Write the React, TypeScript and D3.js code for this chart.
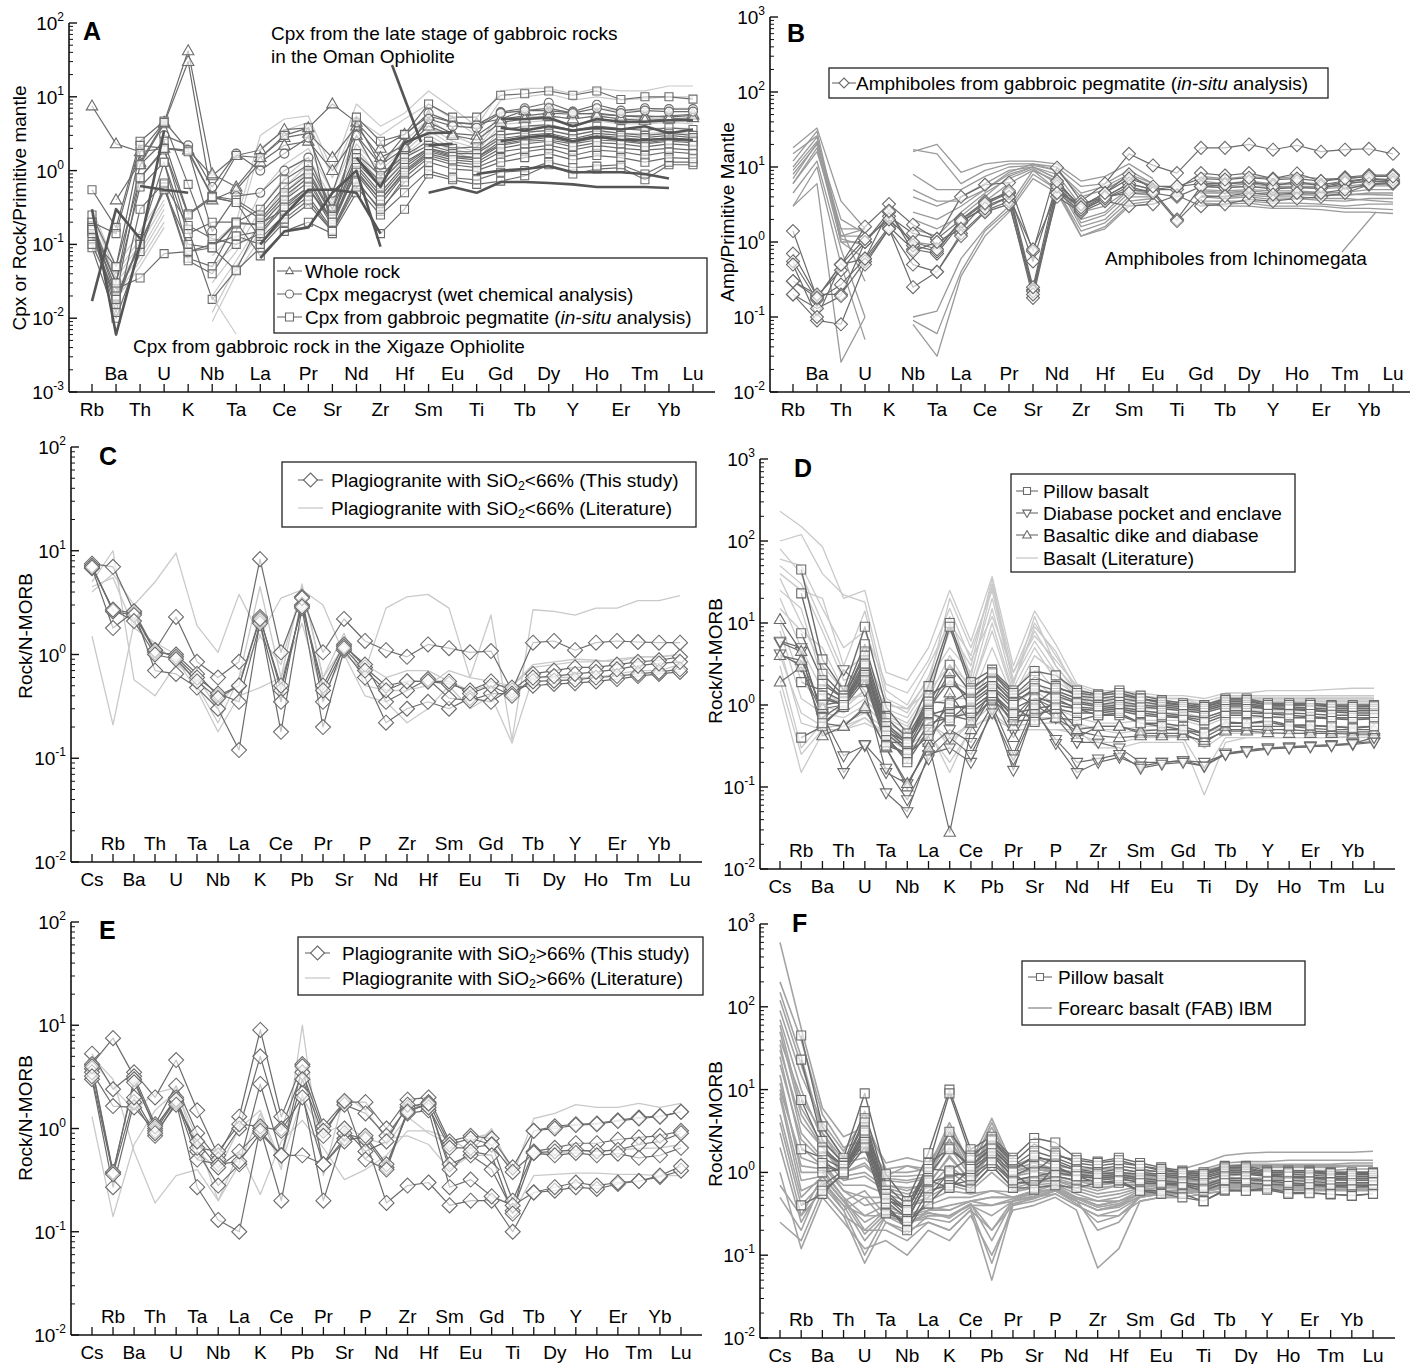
import React from "react";
import * as d3 from "d3";

type V = number | null;

// ---------- element orders (tick labels) ----------
const ELEM_PM = ["Rb","Ba","Th","U","K","Nb","Ta","La","Ce","Pr","Sr","Nd","Zr","Hf","Sm","Eu","Ti","Gd","Tb","Dy","Y","Ho","Er","Tm","Yb","Lu"];
const ELEM_MORB = ["Cs","Rb","Ba","Th","U","Ta","Nb","La","K","Ce","Pb","Pr","Sr","P","Nd","Zr","Hf","Sm","Eu","Gd","Ti","Tb","Dy","Y","Ho","Er","Tm","Yb","Lu"];

// ---------- panel A : cpx / primitive mantle ----------
const wholeRockA: V[][] = [
  [7.5, 2.3, 1.8, 2.0, 1.9, 0.85, 1.6, 1.9, 3.6, 3.8, 8.0, 4.5, 2.0, 3.1, 5.5, 4.5, 4.3, 5.0, 6.5, 6.5, 6.0, 5.8, 5.5, 5.5, 5.3, 5.6],
  [null, 0.4, 1.3, 4.5, 42, 0.9, 0.6, 1.5, 2.8, 3.2, 1.5, 4.0, 1.5, 2.2, 4.5, 3.2, 3.0, 5.0, 5.5, 6.0, 5.8, 6.0, 5.5, 5.3, 5.5, 5.8],
  [null, null, 1.2, 4.3, 30, 0.4, 0.55, 1.3, 2.2, 2.5, 1.0, 3.0, 1.2, 2.0, 4.0, 3.0, 2.6, 4.5, 5.0, 5.5, 5.0, 5.5, 5.0, 4.8, 5.0, 5.2],
];
const cpxMegaA: V[][] = [
  [null, null, null, 3.0, 2.2, 0.6, 1.7, 1.0, 1.7, 2.8, 0.5, 4.5, 1.2, 3.0, 6.0, 4.5, 4.2, 6.2, 7.0, 8.3, 6.3, 7.8, 6.5, 7.0, 6.8, 6.8],
  [null, null, null, 2.0, 1.9, 0.15, 0.45, 0.5, 1.0, 1.5, 0.3, 3.0, 0.8, 2.0, 5.0, 4.0, 3.8, 6.0, 6.5, 7.0, 6.0, 7.0, 6.0, 6.5, 6.3, 6.3],
];
const cpxInsituA: V[][] = [
  [0.55, 0.17, 2.5, 4.7, 1.9, 0.45, 1.6, 1.5, 3.0, 3.8, 0.15, 5.3, 2.5, 3.1, 8.0, 5.3, 5.3, 10.5, 11, 12, 10.5, 12, 9.2, 10, 10, 9.3],
  [0.25, 0.05, 1.8, 4.5, 0.65, 0.09, 0.2, 0.3, 0.75, 1.2, 0.3, 1.7, 0.85, 1.6, 2.5, 2.0, 2.1, 3.5, 4.0, 4.2, 3.5, 4.0, 3.7, 3.5, 3.8, 3.6],
  [0.2, 0.03, 1.2, 2.5, 0.26, 0.45, 0.4, 0.25, 0.6, 1.0, 0.25, 1.5, 0.7, 1.5, 2.2, 1.8, 1.8, 3.0, 3.3, 3.5, 3.0, 3.5, 3.2, 3.0, 3.2, 3.0],
  [0.18, 0.02, 0.8, 2.0, 0.16, 0.018, 0.045, 0.2, 0.45, 0.8, 0.2, 1.2, 0.5, 1.2, 2.0, 1.6, 1.5, 2.5, 2.8, 3.0, 2.6, 3.0, 2.8, 2.6, 2.8, 2.6],
  [0.15, 0.015, 0.12, 1.3, 0.08, 0.1, 0.13, 0.15, 0.35, 0.6, 0.18, 1.0, 0.4, 1.0, 1.8, 1.5, 1.4, 2.2, 2.5, 2.6, 2.3, 2.6, 2.5, 2.3, 2.5, 2.4],
  [0.09, 0.01, 0.08, 0.65, 0.065, 0.05, 0.2, 0.07, 0.15, 0.2, 0.14, 0.5, 0.14, 0.3, 0.9, 0.75, 0.65, 0.72, 0.85, 1.2, 0.9, 1.05, 1.1, 0.75, 1.2, 1.2],
  [0.16, 0.025, 0.035, 0.075, 0.08, 0.09, 0.19, 0.19, 0.3, 0.55, 0.22, 0.9, 0.35, 0.9, 1.6, 1.3, 1.2, 1.8, 2.0, 2.2, 1.9, 2.2, 2.0, 1.9, 2.0, 1.9],
  [0.12, 0.05, 0.8, 1.9, 0.25, 0.43, 0.37, 0.12, 0.25, 0.45, 0.16, 0.75, 0.28, 0.8, 1.5, 1.2, 1.1, 1.5, 1.8, 2.0, 1.6, 1.9, 1.8, 1.6, 1.8, 1.7],
  [0.2, 0.14, 2.2, 2.0, 1.8, 0.44, 0.37, 0.22, 0.5, 0.9, 0.24, 1.3, 0.6, 1.3, 2.0, 1.7, 1.7, 2.7, 3.0, 3.2, 2.7, 3.2, 3.0, 2.8, 3.0, 2.8],
  [0.1, 0.02, 0.1, 0.55, 0.1, 0.09, 0.044, 0.09, 0.2, 0.35, 0.15, 0.6, 0.25, 0.5, 1.0, 0.8, 0.75, 0.95, 1.0, 1.3, 1.1, 1.15, 1.2, 0.9, 1.3, 1.3],
  [0.17, 0.03, 0.6, 1.3, 0.14, 0.2, 0.2, 0.18, 0.4, 0.7, 0.2, 1.1, 0.45, 1.1, 1.9, 1.55, 1.5, 2.3, 2.6, 2.8, 2.4, 2.8, 2.6, 2.4, 2.6, 2.5],
  [0.14, 0.018, 0.1, 0.6, 0.06, 0.04, 0.13, 0.1, 0.22, 0.4, 0.15, 0.7, 0.3, 0.7, 1.3, 1.05, 1.0, 1.3, 1.5, 1.7, 1.4, 1.6, 1.5, 1.3, 1.5, 1.45],
  [0.16, 0.012, 0.3, 0.68, 0.18, 0.12, 0.1, 0.14, 0.32, 0.6, 0.2, 0.95, 0.4, 0.95, 1.7, 1.4, 1.3, 2.0, 2.3, 2.5, 2.1, 2.4, 2.3, 2.1, 2.3, 2.2],
];
const xigazeA: V[][] = [
  [0.3, 0.05, 0.15, 0.5, null, 0.1, 0.2, 3.0, 5.0, 5.5, 1.0, 8, 4, 6, 12, 7, 4, 12, 13, 13, 11, 13, 12, 12, 14, 14],
  [0.25, 0.04, 0.12, 0.4, null, 0.07, 0.15, 2.0, 3.5, 4.5, 0.8, 5, 3, 5, 8, 5, 3, 9, 10, 11, 9, 10, 9, 9.5, 10, 10],
  [0.2, 0.035, 0.1, 0.35, null, 0.05, 0.1, 0.5, 1.2, 2.0, 0.5, 3, 1.2, 2.5, 5, 3, 2.2, 6, 6.5, 7, 6, 7, 6.5, 6.5, 7, 7],
  [0.18, 0.03, 0.08, 0.3, null, 0.03, 0.08, 0.3, 0.8, 1.5, 0.4, 2.3, 1.0, 2.0, 4, 2.5, 2.0, 5, 5.3, 5.5, 5, 5.5, 5, 5, 5.2, 5],
  [0.15, 0.025, 0.07, 0.25, null, 0.02, 0.06, 0.2, 0.6, 1.2, 0.35, 2.0, 0.8, 1.8, 3.5, 2.2, 1.8, 4.2, 4.5, 4.8, 4.2, 4.7, 4.3, 4.3, 4.5, 4.3],
  [0.12, 0.02, 0.06, 0.2, null, 0.012, 0.05, 0.15, 0.5, 1.0, 0.3, 1.7, 0.7, 1.6, 3.0, 2.0, 1.6, 3.6, 3.9, 4.0, 3.6, 4.0, 3.7, 3.7, 3.8, 3.7],
  [0.1, 0.018, 0.05, 0.17, null, 0.009, 0.04, 0.12, 0.4, 0.85, 0.28, 1.4, 0.6, 1.4, 2.7, 1.8, 1.4, 3.1, 3.3, 3.5, 3.1, 3.4, 3.2, 3.2, 3.3, 3.2],
];
const omanA: V[][] = [
  [0.017, 0.3, 0.12, null, null, null, null, null, null, null, null, null, null, null, null, null, null, null, null, null, null, null, null, null, null, null],
  [0.3, 0.006, 0.1, 3.5, null, null, null, null, null, null, null, null, null, null, null, null, null, null, null, null, null, null, null, null, null, null],
  [null, null, 0.62, 0.55, 0.5, null, null, null, null, null, null, null, null, null, null, null, null, null, null, null, null, null, null, null, null, null],
  [null, null, null, null, null, null, null, 0.065, 0.15, 0.17, 0.5, 1.0, 0.093, null, null, null, null, null, null, null, null, null, null, null, null, null],
  [null, null, null, null, null, null, null, 0.1, 0.25, 0.55, 0.55, 0.5, 0.14, null, null, null, null, null, null, null, null, null, null, null, null, null],
  [null, null, null, null, null, null, null, null, null, null, null, 1.5, 0.6, 2.4, 3.2, 3.3, null, null, null, null, null, null, null, null, null, null],
  [null, null, null, null, null, null, null, null, null, null, null, null, null, null, 2.2, 2.3, null, null, null, null, null, null, null, null, null, null],
  [null, null, null, null, null, null, null, null, null, null, null, null, null, null, 0.5, 0.6, 0.5, 0.7, 0.7, 0.68, 0.65, 0.6, 0.6, 0.6, 0.58, null],
  [null, null, null, null, null, null, null, null, null, null, null, null, null, null, null, null, 0.9, 1.0, 1.05, 1.15, 0.95, 0.95, 0.95, 0.9, 0.78, null],
  [null, null, null, null, null, null, null, null, null, null, null, null, null, null, null, null, null, 5.0, 5.0, 5.2, 4.0, 5.0, 4.6, 4.6, 4.8, 4.8],
  [null, null, null, null, null, null, null, null, null, null, null, null, null, null, null, null, null, 3.8, 3.5, 4.0, 3.5, 3.8, 3.6, 4.0, 3.2, 3.6],
  [null, null, null, null, null, null, null, null, null, null, null, null, null, null, null, null, null, 2.5, 2.8, 3.0, 2.5, 2.9, 2.6, 2.6, 2.7, 2.6],
];

// ---------- panel B : amphibole / primitive mantle ----------
const amphPegB: V[][] = [
  [1.4, 0.18, 0.5, 1.6, 3.2, 1.7, 1.1, 4.0, 5.8, 6.2, 0.75, 9.8, 3.5, 6.0, 15, 10.5, 8.3, 18, 18, 20, 17, 19.5, 16, 17, 17.5, 15],
  [0.7, 0.19, 0.42, 1.0, 2.2, 1.3, 1.1, 2.0, 3.5, 4.5, 0.55, 6.0, 3.0, 4.5, 8.0, 5.0, 5.0, 8.3, 7.7, 8.3, 7.0, 8.2, 6.5, 7.3, 7.8, 7.8],
  [0.55, 0.17, 0.27, 0.6, 1.6, 0.8, 0.7, 1.8, 3.0, 4.0, 0.23, 5.0, 2.8, 4.0, 6.0, 5.0, 5.5, 6.0, 6.0, 6.2, 5.8, 6.0, 5.8, 6.5, 7.0, 6.5],
  [0.3, 0.2, 0.2, 0.55, 1.5, 0.5, 0.4, 1.3, 2.6, 3.5, 0.18, 4.5, 2.6, 3.8, 5.5, 4.5, 4.0, 5.5, 5.3, 5.5, 5.1, 5.3, 5.2, 6.0, 6.5, 6.3],
  [0.2, 0.09, 0.08, 0.5, 1.5, 0.25, 0.4, 1.2, 2.5, 3.2, 0.22, 4.0, 2.5, 3.5, 3.0, 3.2, 4.2, 3.0, 3.2, 3.7, 3.5, 3.8, 4.0, 4.5, 5.8, 6.0],
  [0.2, 0.13, 0.19, 1.0, 2.5, 0.9, 0.75, 2.0, 3.2, 4.5, 0.2, 5.5, 2.7, 3.8, 5.0, 4.8, 2.0, 5.5, 5.8, 6.5, 5.5, 6.5, 5.5, 6.2, 7.0, 6.8],
  [0.3, 0.18, 0.5, 1.1, 2.0, 1.0, 0.8, 1.9, 2.8, 4.0, 0.8, 4.5, 3.2, 4.0, 4.5, 4.5, 1.9, 4.0, 4.1, 4.5, 4.3, 4.5, 4.5, 5.0, 6.0, 6.2],
  [0.5, 0.1, 0.5, 0.6, 2.6, 0.75, 1.0, 1.5, 3.3, 4.8, 0.25, 6.5, 2.9, 4.5, 7.0, 5.5, 5.5, 7.0, 6.8, 7.2, 6.8, 7.0, 6.5, 7.0, 7.5, 7.5],
];
const ichinoB: V[][] = [
  [18, 33, 3.5, 1.5, null, 16, 20, 8.5, 11, 12, 12, 11, 6.5, 7.5, 11, 7, null, 7.5, 7, 7.5, 7, 7.5, 7, 7, 7.5, 7.5],
  [9, 22, 1.5, 1.5, null, 17, 15, 6, 9, 11, 11, 10, 5.5, 6, 9, 6, null, 6.5, 6, 6.5, 6, 6.2, 6, 6, 6.5, 6.5],
  [8, 20, 1.2, 1.2, null, 8, 5, 5, 7.5, 10, 10.5, 9, 4, 5, 7.5, 5.5, null, 6, 5.5, 6, 5.5, 5.5, 5.5, 5.5, 6, 6],
  [6, 18, 1.0, 1.0, null, 4, 3, 4, 6, 9, 10, 8, 3, 4, 6, 5, null, 5, 4.8, 5, 4.8, 4.8, 4.6, 4.6, 5, 5],
  [4.5, 12, 0.8, 0.1, null, 2.5, 2, 3, 5, 8, 10, 7, 2, 2.5, 5, 4.5, null, 4.5, 4.5, 4.5, 4.2, 4.3, 4.2, 4.2, 4.5, 4.5],
  [3, 10, 0.5, 0.05, null, 1.5, 1.2, 2.5, 4.5, 7, 9.5, 6, 1.6, 2, 4, 4, null, 4, 3.8, 4, 3.7, 3.8, 3.6, 3.5, 3.8, 3.8],
  [7, 21, 2, 1.3, null, 0.1, 0.12, 0.6, 1.5, 3, 9, 5, 1.4, 1.8, 3.5, 3.8, null, 3.5, 3.5, 3.5, 3.3, 3.3, 3.2, 3, 3.2, 3.2],
  [3, 6, 0.025, 0.1, null, 0.09, 0.06, 0.4, 1.4, 2.7, 8, 5, 1.2, 1.6, 3.2, 3.5, null, 3.3, 3.2, 3.3, 3, 3, 3, 2.8, 2.8, 2.7],
  [10, 25, 1.0, 0.6, null, 0.08, 0.03, 0.35, 1.2, 2.5, 7, 4.5, 1.2, 1.5, 3, 3.2, null, 3.2, 3, 3, 2.8, 2.8, 2.7, 2.5, 2.5, 2.4],
  [15, 26, 1.1, 0.9, null, 5, 3.5, 3.5, 5, 8.5, 11, 9, 4.5, 5.5, 8, 6, null, 5.5, 5.3, 5.5, 5.3, 5.4, 5.2, 5.3, 5.6, 5.6],
  [12, 30, 1.2, 1.5, null, 2, 1.5, 2.2, 4, 7.5, 10, 7, 2.5, 3, 5, 4.5, null, 4.8, 4.6, 4.8, 4.5, 4.6, 4.4, 4.3, 4.3, 4.2],
  [6, 16, 1.5, 0.3, null, 1.0, 0.9, 1.8, 3.5, 6, 9, 6.5, 1.8, 2.3, 4.5, 4.2, null, 4.2, 4, 4.2, 4, 4, 3.8, 3.8, 3.6, 3.4],
];

// ---------- panel C : plagiogranite SiO2 < 66 % ----------
const plagLowStudyC: V[][] = [
  [7.5, 7.0, 2.6, 1.1, 2.3, 0.85, 0.6, 0.85, 8.3, 1.05, 3.6, 1.05, 2.2, 1.35, 1.1, 0.95, 1.25, 1.15, 1.05, 1.08, 0.45, 1.3, 1.35, 1.1, 1.3, 1.35, 1.32, 1.3, 1.3],
  [7.0, 2.7, 2.5, 1.05, 1.0, 0.65, 0.4, 0.5, 2.3, 0.45, 3.0, 0.5, 1.25, 0.75, 0.5, 0.55, 0.55, 0.52, 0.45, 0.55, 0.45, 0.65, 0.7, 0.75, 0.75, 0.8, 0.85, 0.88, 0.95],
  [6.8, 1.8, 2.6, 0.7, 0.65, 0.48, 0.3, 0.12, 2.1, 0.18, 2.8, 0.2, 1.1, 0.6, 0.22, 0.3, 0.35, 0.3, 0.38, 0.35, 0.48, 0.5, 0.52, 0.53, 0.55, 0.58, 0.62, 0.65, 0.68],
  [7.2, 2.6, 2.4, 1.1, 0.95, 0.6, 0.42, 0.35, 2.0, 0.35, 3.5, 0.35, 1.2, 0.8, 0.35, 0.45, 0.58, 0.38, 0.36, 0.42, 0.42, 0.55, 0.56, 0.57, 0.6, 0.62, 0.65, 0.68, 0.72],
  [6.9, 2.7, 2.1, 1.0, 0.9, 0.55, 0.38, 0.5, 2.2, 0.5, 2.9, 0.45, 1.15, 0.7, 0.45, 0.55, 0.55, 0.55, 0.42, 0.5, 0.4, 0.6, 0.62, 0.65, 0.68, 0.72, 0.78, 0.82, 0.85],
];
const plagLowLitC: V[][] = [
  [4.5, 5.5, 1.8, 1.3, 1.0, 0.5, 0.22, 0.6, 1.5, 0.8, 4.5, 0.6, 1.2, 0.8, 0.6, 0.7, 0.7, 0.55, 0.45, 0.5, 0.5, 0.8, 0.85, 0.9, 0.88, 0.85, 0.95, 0.95, 1.0],
  [1.5, 0.21, 2.0, 1.2, 0.9, 0.45, 0.18, 0.4, 0.48, 0.6, 2.0, 0.4, 1.0, 0.4, 0.35, 0.22, 0.3, 0.5, 0.3, 0.4, 0.14, 0.6, 0.6, 0.6, 0.6, 0.65, 0.7, 0.7, 0.8],
  [5.0, 10, 0.57, 0.4, 0.8, 0.6, 0.3, 0.6, 4.5, 0.6, 4.8, 0.6, 1.6, 0.5, 0.45, 0.45, 0.5, 0.7, 0.6, 0.55, 0.5, 0.75, 0.8, 0.85, 0.85, 0.9, 0.95, 0.95, 1.0],
  [4.0, 6.0, 3.0, 5.0, 9.5, 1.9, 1.05, 3.8, 1.5, 3.5, 4.2, 3.0, 1.0, 0.7, 2.8, 3.6, 3.8, 2.8, 0.6, 2.4, 0.15, 2.7, 2.6, 2.4, 2.8, 2.8, 3.3, 3.3, 3.7],
];

// ---------- panels D / F : basalts ----------
const pillowBasalt: V[][] = [
  [null, 45, 3.6, 1.5, 9, 0.95, 0.45, 1.7, 10, 1.9, 2.7, 1.5, 2.6, 2.3, 1.5, 1.35, 1.5, 1.3, 1.15, 1.05, 1.0, 1.2, 1.2, 1.05, 1.05, 1.05, 1.0, 1.0, 1.0],
  [null, 23, 2.4, 1.3, 5.5, 0.7, 0.4, 1.2, 9, 1.6, 2.4, 1.3, 2.2, 1.7, 1.3, 1.2, 1.3, 1.2, 1.05, 1.0, 0.95, 1.1, 1.1, 1.0, 1.0, 1.0, 0.95, 0.95, 0.95],
  [null, 7.5, 2.0, 1.2, 4.5, 0.6, 0.35, 1.0, 3.1, 1.4, 2.1, 1.2, 1.8, 1.5, 1.2, 1.1, 1.2, 1.1, 1.0, 0.95, 0.9, 1.05, 1.05, 0.95, 0.95, 0.92, 0.9, 0.9, 0.9],
  [null, 1.9, 1.5, 1.1, 3.5, 0.5, 0.3, 0.9, 2.0, 1.2, 1.9, 1.1, 1.5, 1.4, 1.1, 1.0, 1.1, 1.0, 0.95, 0.9, 0.85, 1.0, 1.0, 0.92, 0.9, 0.88, 0.85, 0.85, 0.85],
  [null, 0.4, 0.55, 1.0, 2.3, 0.35, 0.25, 0.42, 0.75, 0.65, 1.2, 0.65, 0.65, 0.7, 0.65, 0.75, 0.75, 0.6, 0.6, 0.55, 0.45, 0.6, 0.6, 0.65, 0.57, 0.57, 0.54, 0.53, 0.55],
  [null, null, 1.2, 1.0, 2.8, 0.45, 0.28, 0.75, 0.9, 1.0, 1.6, 0.9, 1.2, 1.1, 0.95, 0.9, 0.95, 0.85, 0.8, 0.75, 0.7, 0.85, 0.85, 0.8, 0.8, 0.78, 0.75, 0.75, 0.75],
  [null, null, 0.7, 1.05, 2.5, 0.4, 0.22, 0.6, 0.7, 0.8, 1.3, 0.75, 0.75, 0.9, 0.8, 0.8, 0.85, 0.75, 0.72, 0.7, 0.6, 0.75, 0.75, 0.72, 0.7, 0.7, 0.68, 0.66, 0.68],
  [null, null, 1.0, 1.1, 3.0, 0.42, 0.2, 0.5, 1.0, 0.9, 1.4, 0.8, 0.9, 1.0, 0.9, 0.85, 0.9, 0.8, 0.75, 0.72, 0.65, 0.8, 0.8, 0.78, 0.75, 0.72, 0.7, 0.7, 0.7],
  [null, null, 1.8, 1.2, 4.0, 0.55, 0.33, 1.3, 1.9, 1.2, 2.0, 1.05, 1.6, 1.3, 1.05, 0.95, 1.0, 0.95, 0.9, 0.85, 0.8, 0.95, 0.95, 0.9, 0.88, 0.85, 0.82, 0.8, 0.8],
  [null, null, 0.6, 0.95, 2.0, 0.32, 0.26, 0.8, 0.65, 1.1, 1.7, 1.0, 0.62, 1.2, 0.9, 0.75, 0.8, 0.6, 0.55, 0.5, 0.45, 0.62, 0.6, 0.62, 0.55, 0.56, 0.55, 0.52, 0.55],
  [null, null, 1.3, 1.0, 3.2, 0.48, 0.35, 1.1, 1.05, 1.5, 2.5, 1.4, 1.0, 1.6, 1.4, 1.3, 1.4, 1.2, 1.1, 1.0, 0.95, 1.15, 1.15, 1.0, 1.0, 1.0, 0.98, 0.95, 0.98],
];
const diabasePocketD: V[][] = [
  [5.8, 4.5, 0.8, 2.7, 1.5, 0.15, 0.11, 0.3, 0.5, 0.35, 1.0, 0.25, 1.0, 0.7, 0.35, 0.35, 0.3, 0.2, 0.2, 0.21, 0.18, 0.26, 0.28, 0.3, 0.31, 0.32, 0.33, 0.34, 0.36],
  [4.2, 3.0, 0.75, 0.24, 0.32, 0.085, 0.05, 0.25, 0.3, 0.2, 0.9, 0.16, 0.9, 0.34, 0.15, 0.2, 0.23, 0.18, 0.2, 0.21, 0.2, 0.25, 0.28, 0.3, 0.3, 0.31, 0.32, 0.33, 0.35],
  [6.0, 5.0, 0.7, 0.15, 0.33, 0.17, 0.07, 0.22, 0.4, 0.25, 0.8, 0.22, 0.85, 0.38, 0.2, 0.22, 0.25, 0.17, 0.19, 0.2, 0.18, 0.25, 0.27, 0.29, 0.3, 0.31, 0.32, 0.34, 0.4],
];
const basalticDikeD: V[][] = [
  [11, 4.5, 0.42, 0.55, 0.9, 0.3, 0.1, 0.35, 0.028, 0.5, 1.3, 0.4, 1.2, 0.9, 0.4, 0.55, 0.55, 0.45, 0.45, 0.45, 0.35, 0.5, 0.5, 0.5, 0.5, 0.48, 0.47, 0.47, 0.47],
  [1.9, 2.9, 0.6, 0.55, 0.95, 0.3, 0.11, 0.3, 1.4, 0.6, 1.5, 0.55, 1.3, 0.7, 0.48, 0.42, 0.4, 0.42, 0.42, 0.42, 0.37, 0.48, 0.48, 0.46, 0.45, 0.45, 0.45, 0.44, 0.44],
  [4.0, 3.5, 0.9, 1.0, 2.2, 0.35, 0.35, 0.9, 2.5, 0.9, 1.4, 0.7, 1.3, 1.0, 0.5, 0.55, 0.55, 0.48, 0.5, 0.5, 0.4, 0.55, 0.55, 0.55, 0.55, 0.52, 0.5, 0.5, 0.5],
];
const basaltLitD: V[][] = [
  [230, 150, 85, 20, 25, 2.5, 2.0, 5, 25, 6, 37, 3, 14, 5.5, 1.8, 1.5, 1.5, 1.4, 1.3, 1.3, 1.2, 1.4, 1.4, 1.5, 1.5, 1.5, 1.55, 1.6, 1.6],
  [100, 120, 40, 22, 18, 1.5, 1.0, 3, 10, 4, 30, 2.5, 10, 4, 1.6, 1.3, 1.4, 1.3, 1.2, 1.2, 1.1, 1.3, 1.3, 1.3, 1.3, 1.3, 1.3, 1.3, 1.3],
  [50, 30, 8, 2, 2.5, 1.0, 0.9, 2, 5, 2.5, 20, 2.0, 8, 3, 1.5, 1.2, 1.2, 1.2, 1.1, 1.1, 1.0, 1.2, 1.2, 1.2, 1.2, 1.2, 1.2, 1.2, 1.2],
  [35, 10, 3, 1.5, 1.8, 0.8, 0.6, 1.5, 3, 1.8, 15, 1.6, 5, 2, 1.3, 1.1, 1.1, 1.1, 1.0, 1.0, 0.9, 1.1, 1.1, 1.1, 1.1, 1.1, 1.1, 1.1, 1.1],
  [20, 5, 1.5, 1.0, 1.5, 0.7, 0.5, 1.2, 2, 1.5, 10, 1.4, 3, 1.5, 1.2, 1.0, 1.0, 1.0, 0.95, 0.95, 0.85, 1.0, 1.0, 1.0, 1.0, 1.0, 1.0, 1.0, 1.0],
  [10, 2, 1.0, 0.8, 1.2, 0.6, 0.45, 1.0, 1.2, 1.2, 5, 1.2, 2, 1.2, 1.1, 0.95, 0.95, 0.95, 0.9, 0.9, 0.8, 0.95, 0.95, 0.95, 0.95, 0.95, 0.95, 0.95, 0.95],
  [5, 0.6, 0.5, 0.6, 0.8, 0.5, 0.4, 0.8, 0.6, 1.0, 3, 1.0, 1.5, 1.0, 0.9, 0.85, 0.85, 0.85, 0.8, 0.8, 0.7, 0.85, 0.85, 0.85, 0.85, 0.85, 0.85, 0.85, 0.85],
  [1.5, 0.15, 0.45, 0.5, 0.6, 0.45, 0.3, 0.5, 0.15, 0.55, 0.7, 0.5, 0.5, 0.5, 0.5, 0.3, 0.3, 0.35, 0.35, 0.35, 0.08, 0.35, 0.4, 0.4, 0.4, 0.4, 0.4, 0.42, 0.42],
  [3, 0.3, 0.6, 0.9, 1.5, 0.55, 0.35, 0.6, 0.4, 0.6, 1.0, 0.55, 0.6, 0.6, 0.55, 0.5, 0.45, 0.5, 0.5, 0.48, 0.3, 0.45, 0.45, 0.45, 0.45, 0.45, 0.45, 0.45, 0.45],
  [40, 25, 20, 3, 14, 1.2, 0.9, 1.5, 8, 3, 35, 1.8, 12, 3, 1.4, 1.0, 1.05, 1.0, 1.0, 1.0, 0.9, 1.0, 1.0, 1.05, 1.05, 1.05, 1.05, 1.05, 1.05],
  [15, 8, 5, 1.5, 3, 0.9, 0.7, 1.8, 20, 5, 25, 2, 6, 2.5, 1.3, 0.9, 0.9, 0.9, 0.9, 0.9, 0.9, 0.9, 0.9, 0.9, 0.9, 0.9, 0.9, 0.9, 0.9],
  [8, 1.2, 0.8, 0.7, 1.0, 0.55, 0.4, 0.7, 0.3, 0.7, 1.5, 0.7, 0.8, 0.9, 0.7, 0.6, 0.6, 0.65, 0.65, 0.65, 0.55, 0.7, 0.7, 0.7, 0.7, 0.7, 0.7, 0.7, 0.7],
  [60, 50, 15, 5, 8, 1.8, 1.4, 3.5, 15, 3.5, 12, 2.5, 7, 3.5, 1.7, 1.4, 1.3, 1.3, 1.2, 1.2, 1.0, 1.25, 1.25, 1.25, 1.25, 1.25, 1.25, 1.25, 1.25],
  [2, 0.25, 0.5, 0.5, 0.7, 0.4, 0.28, 0.45, 0.2, 0.5, 0.8, 0.5, 0.5, 0.5, 0.45, 0.35, 0.35, 0.4, 0.4, 0.4, 0.15, 0.4, 0.4, 0.4, 0.4, 0.4, 0.4, 0.4, 0.4],
  [25, 15, 2, 1.2, 1.3, 0.75, 0.55, 1.2, 4, 1.5, 8, 1.3, 4, 2.5, 1.15, 1.0, 1.0, 1.0, 0.95, 0.95, 0.9, 1.0, 1.0, 1.0, 1.0, 1.0, 1.0, 1.0, 1.0],
  [4, 0.8, 0.55, 0.55, 0.7, 0.45, 0.35, 0.6, 0.35, 0.6, 1.2, 0.6, 0.7, 0.7, 0.6, 0.5, 0.5, 0.55, 0.55, 0.55, 0.45, 0.55, 0.55, 0.55, 0.55, 0.55, 0.55, 0.55, 0.55],
  [80, 40, 10, 2.5, 4, 1.1, 0.8, 2.2, 12, 2.2, 28, 1.8, 9, 4.5, 1.4, 1.2, 1.2, 1.15, 1.1, 1.1, 1.0, 1.15, 1.15, 1.15, 1.15, 1.15, 1.15, 1.15, 1.15],
];

// ---------- panel E : plagiogranite SiO2 > 66 % ----------
const plagHighStudyE: V[][] = [
  [5.3, 2.4, 3.5, 2.0, 4.6, 1.5, 0.55, 1.3, 9, 1.3, 4.2, 1.05, 1.8, 1.8, 1.0, 1.9, 2.0, 0.75, 0.85, 0.8, 0.42, 0.95, 1.05, 1.1, 1.12, 1.2, 1.28, 1.32, 1.45],
  [4.2, 7.5, 3.2, 1.1, 2.6, 0.9, 0.5, 1.0, 5.0, 1.0, 3.5, 0.95, 1.7, 1.4, 0.85, 1.6, 1.8, 0.7, 0.8, 0.7, 0.2, 0.6, 0.65, 0.72, 0.72, 0.78, 0.82, 0.85, 0.95],
  [3.8, 0.37, 3.0, 1.0, 2.0, 0.6, 0.28, 0.45, 2.7, 0.55, 4.0, 0.45, 0.8, 0.8, 0.42, 1.5, 1.7, 0.45, 0.55, 0.4, 0.16, 0.58, 0.6, 0.62, 0.6, 0.62, 0.7, 0.75, 0.9],
  [3.0, 0.27, 1.8, 0.85, 1.8, 0.27, 0.13, 0.1, 1.0, 0.2, 2.2, 0.2, 0.9, 0.78, 0.19, 0.28, 0.3, 0.18, 0.2, 0.2, 0.1, 0.24, 0.25, 0.27, 0.26, 0.29, 0.31, 0.34, 0.39],
  [3.5, 1.65, 1.6, 0.95, 1.9, 0.5, 0.45, 0.48, 0.9, 0.55, 0.55, 0.45, 0.75, 0.85, 0.45, 1.4, 1.5, 0.27, 0.32, 0.22, 0.18, 0.24, 0.27, 0.3, 0.28, 0.3, 0.31, 0.35, 0.43],
  [4.0, 0.38, 2.8, 1.05, 1.9, 0.65, 0.6, 1.1, 1.05, 0.95, 2.0, 0.45, 1.0, 0.6, 0.75, 1.7, 1.6, 0.65, 0.65, 0.7, 0.38, 0.58, 0.55, 0.58, 0.55, 0.57, 0.52, 0.55, 0.65],
  [3.2, 0.36, 2.0, 0.9, 1.7, 0.75, 0.42, 0.6, 0.95, 0.55, 3.0, 0.85, 1.85, 0.5, 0.4, 1.45, 1.75, 0.4, 0.6, 0.55, 0.15, 0.95, 1.0, 1.08, 1.1, 1.18, 1.25, 1.3, 1.45],
];
const plagHighLitE: V[][] = [
  [1.3, 0.14, 0.7, 1.5, 2.3, 0.8, 0.2, 0.45, 1.4, 0.4, 10, 0.35, 2.1, 1.5, 0.8, 0.85, 0.7, 0.4, 0.55, 0.55, 0.15, 0.35, 0.36, 0.37, 0.37, 0.36, 0.36, 0.35, 0.35],
  [5.0, 3.0, 0.6, 0.19, 0.35, 0.4, 0.2, 0.6, 0.23, 0.75, 1.2, 0.65, 0.32, 0.4, 0.55, 0.95, 0.95, 0.8, 0.6, 1.0, 0.35, 1.25, 1.4, 1.7, 1.6, 1.6, 1.75, 1.6, 1.75],
  [4.8, 2.5, 1.5, 2.2, 2.5, 0.6, 0.4, 1.0, 1.5, 0.45, 2.0, 0.9, 1.1, 0.8, 0.7, 1.3, 0.9, 0.7, 0.8, 0.9, 0.4, 0.55, 0.58, 0.6, 0.6, 0.62, 0.64, 0.65, 0.7],
];

// ---------- panel F : forearc basalt IBM ----------
const fabIbmF: V[][] = [
  [600, 55, 6, 2.7, 3.5, 1.3, 1.5, 1.3, 3, 1.3, 4.5, 1.2, 1.5, 1.2, 1.1, 1.1, 1.1, 1.0, 1.05, 1.1, 1.3, 1.6, 1.7, 1.75, 1.75, 1.75, 1.75, 1.75, 1.8],
  [200, 40, 5, 2.0, 2.5, 1.0, 1.0, 1.1, 4, 1.2, 3.5, 1.1, 1.3, 1.1, 1.0, 1.0, 1.0, 0.95, 0.95, 1.0, 1.1, 1.3, 1.35, 1.35, 1.4, 1.4, 1.4, 1.4, 1.4],
  [120, 20, 3.5, 1.5, 2.0, 0.9, 0.9, 0.95, 3, 1.0, 3, 1.0, 1.2, 1.0, 0.95, 0.9, 0.95, 0.9, 0.9, 0.95, 1.0, 1.2, 1.25, 1.25, 1.25, 1.25, 1.25, 1.3, 1.3],
  [70, 10, 2.5, 1.3, 1.5, 0.8, 0.75, 0.85, 2, 0.9, 2.5, 0.9, 1.0, 0.95, 0.9, 0.85, 0.9, 0.85, 0.85, 0.9, 0.95, 1.1, 1.15, 1.15, 1.15, 1.15, 1.15, 1.2, 1.2],
  [50, 5, 2, 1.0, 1.2, 0.7, 0.6, 0.75, 1.5, 0.8, 2, 0.8, 0.9, 0.9, 0.8, 0.75, 0.8, 0.8, 0.8, 0.85, 0.9, 1.0, 1.05, 1.05, 1.05, 1.05, 1.05, 1.1, 1.1],
  [35, 3, 1.5, 0.8, 0.9, 0.6, 0.5, 0.6, 1.0, 0.7, 1.5, 0.7, 0.8, 0.8, 0.7, 0.6, 0.7, 0.7, 0.75, 0.75, 0.8, 0.9, 0.95, 0.95, 0.95, 0.95, 0.95, 1.0, 1.0],
  [25, 2, 1.2, 0.6, 0.5, 0.5, 0.4, 0.5, 0.7, 0.6, 1.0, 0.6, 0.7, 0.75, 0.6, 0.5, 0.55, 0.65, 0.7, 0.7, 0.75, 0.85, 0.85, 0.85, 0.85, 0.85, 0.85, 0.9, 0.9],
  [15, 1.0, 1.0, 0.5, 0.3, 0.4, 0.3, 0.4, 0.5, 0.5, 0.6, 0.5, 0.6, 0.7, 0.5, 0.4, 0.45, 0.6, 0.65, 0.65, 0.7, 0.75, 0.8, 0.8, 0.8, 0.8, 0.8, 0.8, 0.8],
  [8, 0.6, 0.8, 0.4, 0.15, 0.3, 0.25, 0.3, 0.3, 0.4, 0.3, 0.45, 0.5, 0.6, 0.45, 0.35, 0.4, 0.55, 0.6, 0.6, 0.65, 0.7, 0.72, 0.72, 0.72, 0.72, 0.72, 0.72, 0.72],
  [3, 0.3, 0.6, 0.3, 0.08, 0.25, 0.2, 0.25, 0.2, 0.35, 0.05, 0.4, 0.45, 0.55, 0.4, 0.3, 0.35, 0.5, 0.55, 0.55, 0.6, 0.65, 0.65, 0.65, 0.65, 0.65, 0.65, 0.65, 0.65],
  [1, 0.12, 0.5, 0.25, 0.12, 0.15, 0.1, 0.2, 0.15, 0.3, 0.1, 0.35, 0.4, 0.5, 0.35, 0.07, 0.12, 0.45, 0.5, 0.5, 0.55, 0.6, 0.6, 0.6, 0.6, 0.6, 0.6, 0.6, 0.6],
  [0.25, 0.15, 0.6, 0.3, 0.2, 0.2, 0.15, 0.25, 0.2, 0.35, 0.2, 0.4, 0.5, 0.55, 0.4, 0.3, 0.3, 0.45, 0.5, 0.5, 0.55, 0.6, 0.62, 0.62, 0.62, 0.62, 0.62, 0.62, 0.62],
  [0.5, 0.2, 0.8, 0.35, 0.5, 0.25, 0.18, 0.3, 0.3, 0.4, 0.4, 0.45, 0.6, 0.6, 0.45, 0.35, 0.4, 0.5, 0.55, 0.55, 0.58, 0.65, 0.68, 0.68, 0.68, 0.68, 0.68, 0.68, 0.68],
  [40, 8, 3, 1.2, 3, 0.9, 1.2, 1.0, 2.5, 1.0, 3, 0.95, 1.1, 1.0, 0.9, 0.85, 0.85, 0.85, 0.85, 0.85, 0.9, 1.0, 1.0, 1.0, 1.0, 1.0, 1.0, 1.0, 1.0],
  [10, 1.5, 1.2, 0.7, 0.7, 0.55, 0.45, 0.55, 0.8, 0.65, 1.2, 0.65, 0.75, 0.8, 0.65, 0.55, 0.6, 0.68, 0.7, 0.72, 0.75, 0.82, 0.85, 0.85, 0.85, 0.85, 0.85, 0.85, 0.85],
  [5, 0.5, 0.9, 0.45, 0.25, 0.35, 0.3, 0.35, 0.4, 0.45, 0.5, 0.5, 0.55, 0.65, 0.5, 0.4, 0.45, 0.55, 0.6, 0.6, 0.62, 0.7, 0.7, 0.7, 0.7, 0.7, 0.7, 0.7, 0.7],
  [90, 15, 4, 1.8, 4.5, 1.1, 1.2, 1.1, 3.5, 1.1, 4, 1.05, 1.2, 1.05, 1.0, 0.95, 1.0, 0.9, 0.9, 0.95, 1.05, 1.2, 1.2, 1.2, 1.2, 1.2, 1.2, 1.2, 1.2],
  [2, 0.25, 0.7, 0.35, 0.1, 0.3, 0.25, 0.28, 0.25, 0.38, 0.08, 0.42, 0.48, 0.6, 0.42, 0.25, 0.3, 0.5, 0.55, 0.55, 0.6, 0.65, 0.66, 0.66, 0.66, 0.66, 0.66, 0.66, 0.66],
  [30, 4, 2.0, 0.9, 1.0, 0.65, 0.55, 0.65, 1.2, 0.75, 1.8, 0.72, 0.85, 0.85, 0.72, 0.65, 0.7, 0.72, 0.75, 0.78, 0.82, 0.92, 0.95, 0.95, 0.95, 0.95, 0.95, 0.95, 0.95],
  [20, 2.5, 1.4, 0.6, 0.4, 0.45, 0.4, 0.45, 0.6, 0.55, 0.6, 0.58, 0.65, 0.72, 0.55, 0.45, 0.5, 0.62, 0.66, 0.68, 0.72, 0.78, 0.8, 0.8, 0.8, 0.8, 0.8, 0.82, 0.82],
  [12, 1.2, 1.1, 0.5, 0.2, 0.35, 0.3, 0.38, 0.35, 0.45, 0.4, 0.48, 0.55, 0.65, 0.48, 0.38, 0.42, 0.56, 0.6, 0.62, 0.66, 0.72, 0.74, 0.74, 0.74, 0.74, 0.74, 0.75, 0.75],
  [60, 6, 2.2, 1.0, 1.3, 0.7, 0.65, 0.7, 1.6, 0.8, 2.2, 0.78, 0.9, 0.9, 0.78, 0.7, 0.75, 0.75, 0.78, 0.82, 0.88, 0.98, 1.0, 1.0, 1.0, 1.0, 1.0, 1.02, 1.02],
  [4, 0.4, 0.75, 0.4, 0.3, 0.3, 0.25, 0.32, 0.3, 0.42, 0.15, 0.45, 0.5, 0.6, 0.45, 0.35, 0.38, 0.52, 0.56, 0.57, 0.6, 0.66, 0.67, 0.67, 0.67, 0.67, 0.67, 0.68, 0.68],
  [150, 25, 3.0, 1.4, 1.8, 0.85, 0.8, 0.9, 2.5, 0.95, 2.8, 0.92, 1.1, 1.0, 0.92, 0.88, 0.9, 0.88, 0.88, 0.92, 1.0, 1.15, 1.18, 1.2, 1.2, 1.2, 1.2, 1.22, 1.22],
  [0.7, 0.3, 0.9, 0.45, 0.6, 0.3, 0.22, 0.35, 0.35, 0.45, 0.5, 0.5, 0.6, 0.62, 0.5, 0.45, 0.45, 0.55, 0.58, 0.6, 0.62, 0.7, 0.72, 0.72, 0.72, 0.72, 0.72, 0.72, 0.72],
  [9, 0.8, 0.9, 0.45, 0.18, 0.32, 0.28, 0.33, 0.28, 0.42, 0.2, 0.46, 0.52, 0.62, 0.46, 0.2, 0.25, 0.52, 0.57, 0.58, 0.62, 0.68, 0.69, 0.69, 0.69, 0.69, 0.69, 0.7, 0.7],
];

// ---------- legend / annotation text ----------
type Part = { t: string; s?: "sub" | "it" };
const legendA: Part[][] = [
  [{ t: "Whole rock" }],
  [{ t: "Cpx megacryst (wet chemical analysis)" }],
  [{ t: "Cpx from gabbroic pegmatite (" }, { t: "in-situ", s: "it" }, { t: " analysis)" }],
];
const legendB: Part[][] = [[{ t: "Amphiboles from gabbroic pegmatite (" }, { t: "in-situ", s: "it" }, { t: " analysis)" }]];
const legendC: Part[][] = [
  [{ t: "Plagiogranite with SiO" }, { t: "2", s: "sub" }, { t: "<66% (This study)" }],
  [{ t: "Plagiogranite with SiO" }, { t: "2", s: "sub" }, { t: "<66% (Literature)" }],
];
const legendD: Part[][] = [
  [{ t: "Pillow basalt" }], [{ t: "Diabase pocket and enclave" }], [{ t: "Basaltic dike and diabase" }], [{ t: "Basalt (Literature)" }],
];
const legendE: Part[][] = [
  [{ t: "Plagiogranite with SiO" }, { t: "2", s: "sub" }, { t: ">66% (This study)" }],
  [{ t: "Plagiogranite with SiO" }, { t: "2", s: "sub" }, { t: ">66% (Literature)" }],
];
const legendF: Part[][] = [[{ t: "Pillow basalt" }], [{ t: "Forearc basalt (FAB) IBM" }]];

const FONT = "'Liberation Sans', Arial, Helvetica, sans-serif";
const DARK = "#6b6b6b";
const LIGHT = "#c9c9c9";

type Mk = "tri" | "tridown" | "circle" | "square" | "diamond";
type Group = { data: V[][]; color: string; width: number; marker?: Mk; r?: number };
type Geo = { x0: number; x1: number; t0: number; t1: number; yTop: number; yBot: number; eMin: number; eMax: number };

function markerPath(m: Mk, r: number): string {
  switch (m) {
    case "tri": return `M0,${-r}L${r * 0.95},${r * 0.65}L${-r * 0.95},${r * 0.65}Z`;
    case "tridown": return `M0,${r}L${r * 0.95},${-r * 0.65}L${-r * 0.95},${-r * 0.65}Z`;
    case "square": return `M${-r},${-r}H${r}V${r}H${-r}Z`;
    case "diamond": return `M0,${-r}L${r},0L0,${r}L${-r},0Z`;
    default: return d3.arc()({ innerRadius: 0, outerRadius: r, startAngle: 0, endAngle: Math.PI * 2 }) as string;
  }
}

function Rich({ parts, x, y, size }: { parts: Part[]; x: number; y: number; size: number }) {
  let shift = 0;
  const out = parts.map((p, i) => {
    if (p.s === "sub") {
      shift = 6;
      return <tspan key={i} fontSize={size * 0.65} dy={6}>{p.t}</tspan>;
    }
    const dy = shift ? -shift : undefined;
    shift = 0;
    return <tspan key={i} dy={dy} fontStyle={p.s === "it" ? "italic" : undefined}>{p.t}</tspan>;
  });
  return <text x={x} y={y} fontSize={size} fontFamily={FONT} dominantBaseline="central">{out}</text>;
}

type LegendRow = { parts: Part[]; color: string; width: number; marker?: Mk; r?: number };
function Legend({ box, rows, rowY, sx, tx }: { box: [number, number, number, number]; rows: LegendRow[]; rowY: number[]; sx: [number, number]; tx: number }) {
  return (
    <g>
      <rect x={box[0]} y={box[1]} width={box[2]} height={box[3]} fill="white" stroke="#222" strokeWidth={1.3} />
      {rows.map((r, i) => (
        <g key={i}>
          <line x1={sx[0]} x2={sx[1]} y1={rowY[i]} y2={rowY[i]} stroke={r.color} strokeWidth={r.width} />
          {r.marker && (
            <path d={markerPath(r.marker, r.r || 4)} transform={`translate(${(sx[0] + sx[1]) / 2},${rowY[i]})`} fill="white" stroke={r.color} strokeWidth={1.1} />
          )}
          <Rich parts={r.parts} x={tx} y={rowY[i]} size={19} />
        </g>
      ))}
    </g>
  );
}

function Panel({ geo, elems, groups, letter, letterPos, yLabel, yLabelPos, children }: {
  geo: Geo; elems: string[]; groups: Group[]; letter: string; letterPos: [number, number];
  yLabel: string; yLabelPos: [number, number]; children?: React.ReactNode;
}) {
  const y = d3.scaleLog().domain([Math.pow(10, geo.eMin), Math.pow(10, geo.eMax)]).range([geo.yBot, geo.yTop]);
  const x = d3.scaleLinear().domain([0, elems.length - 1]).range([geo.t0, geo.t1]);
  const line = d3.line<V>().defined((v) => v != null).x((_, i) => x(i)).y((v) => y(v as number));
  const majors = d3.range(geo.eMin, geo.eMax + 1);
  const minors: number[] = [];
  for (let e = geo.eMin; e < geo.eMax; e++) for (let k = 2; k <= 9; k++) minors.push(k * Math.pow(10, e));
  return (
    <g>
      {groups.map((g, gi) => (
        <g key={gi}>
          {g.data.map((s, si) => (
            <path key={si} d={line(s) || ""} fill="none" stroke={g.color} strokeWidth={g.width} strokeLinejoin="round" />
          ))}
          {g.marker && g.data.map((s, si) => s.map((v, i) => v == null ? null : (
            <path key={si + "-" + i} d={markerPath(g.marker as Mk, g.r || 4)} transform={`translate(${x(i)},${y(v)})`} fill="white" fillOpacity={0.6} stroke={g.color} strokeWidth={1.1} />
          )))}
        </g>
      ))}
      {/* axes */}
      <line x1={geo.x0} x2={geo.x1} y1={geo.yBot} y2={geo.yBot} stroke="#111" strokeWidth={1.6} />
      <line x1={geo.x0} x2={geo.x0} y1={geo.yTop} y2={geo.yBot} stroke="#111" strokeWidth={1.6} />
      {elems.map((el, i) => (
        <g key={el}>
          <line x1={x(i)} x2={x(i)} y1={geo.yBot} y2={geo.yBot - 8} stroke="#111" strokeWidth={1.3} />
          <text x={x(i)} y={i % 2 === 1 ? geo.yBot - 19 : geo.yBot + 17} textAnchor="middle" dominantBaseline="central" fontSize={19} fontFamily={FONT}>{el}</text>
        </g>
      ))}
      {minors.map((v, i) => (
        <line key={"m" + i} x1={geo.x0} x2={geo.x0 + 4} y1={y(v)} y2={y(v)} stroke="#111" strokeWidth={1} />
      ))}
      {majors.map((e) => (
        <g key={"M" + e}>
          <line x1={geo.x0} x2={geo.x0 + 8} y1={y(Math.pow(10, e))} y2={y(Math.pow(10, e))} stroke="#111" strokeWidth={1.4} />
          <text x={geo.x0 - 5} y={y(Math.pow(10, e)) + 7} textAnchor="end" fontSize={19} fontFamily={FONT}>
            10<tspan fontSize={12} dy={-9}>{e}</tspan>
          </text>
        </g>
      ))}
      <text x={letterPos[0]} y={letterPos[1]} fontSize={25} fontWeight="bold" fontFamily={FONT} dominantBaseline="central">{letter}</text>
      <text transform={`translate(${yLabelPos[0]},${yLabelPos[1]}) rotate(-90)`} textAnchor="middle" dominantBaseline="central" fontSize={19} fontFamily={FONT}>{yLabel}</text>
      {children}
    </g>
  );
}

const geoA: Geo = { x0: 69, x1: 715, t0: 92, t1: 693, yTop: 23, yBot: 392, eMin: -3, eMax: 2 };
const geoB: Geo = { x0: 770, x1: 1410, t0: 793, t1: 1393, yTop: 17, yBot: 392, eMin: -2, eMax: 3 };
const geoC: Geo = { x0: 71, x1: 702, t0: 92, t1: 680, yTop: 447, yBot: 862, eMin: -2, eMax: 2 };
const geoD: Geo = { x0: 760, x1: 1395, t0: 780, t1: 1374, yTop: 459, yBot: 869, eMin: -2, eMax: 3 };
const geoE: Geo = { x0: 71, x1: 702, t0: 92, t1: 681, yTop: 922, yBot: 1335, eMin: -2, eMax: 2 };
const geoF: Geo = { x0: 760, x1: 1395, t0: 780, t1: 1373, yTop: 924, yBot: 1338, eMin: -2, eMax: 3 };

export default function App() {
  return (
    <div style={{ position: "absolute", left: 0, top: 0 }}>
      <svg width={1417} height={1364} style={{ display: "block", background: "white" }}>
        {/* A */}
        <Panel geo={geoA} elems={ELEM_PM} letter="A" letterPos={[83, 31]} yLabel="Cpx or Rock/Primitive mantle" yLabelPos={[19, 208]}
          groups={[
            { data: xigazeA, color: LIGHT, width: 1.2 },
            { data: wholeRockA, color: DARK, width: 1.2, marker: "tri", r: 6 },
            { data: cpxMegaA, color: DARK, width: 1.2, marker: "circle", r: 4.5 },
            { data: cpxInsituA, color: DARK, width: 1.2, marker: "square", r: 4 },
            { data: omanA, color: "#555", width: 2.6 },
          ]}>
          <line x1={236} y1={334} x2={211} y2={295} stroke={LIGHT} strokeWidth={1.2} />
          <line x1={392} y1={65} x2={421} y2={142} stroke="#555" strokeWidth={2.6} />
          <text x={271} y={33} fontSize={19} fontFamily={FONT} dominantBaseline="central">Cpx from the late stage of gabbroic rocks</text>
          <text x={271} y={56} fontSize={19} fontFamily={FONT} dominantBaseline="central">in the Oman Ophiolite</text>
          <text x={133} y={346} fontSize={19} fontFamily={FONT} dominantBaseline="central">Cpx from gabbroic rock in the Xigaze Ophiolite</text>
          <Legend box={[274, 258, 433, 75]} rowY={[271, 294, 317]} sx={[277, 302]} tx={305}
            rows={legendA.map((p, i) => ({ parts: p, color: DARK, width: 1.1, marker: (["tri", "circle", "square"] as Mk[])[i], r: 4 }))} />
        </Panel>

        {/* B */}
        <Panel geo={geoB} elems={ELEM_PM} letter="B" letterPos={[787, 33]} yLabel="Amp/Primitive Mantle" yLabelPos={[727, 212]}
          groups={[
            { data: ichinoB, color: "#9a9a9a", width: 1.3 },
            { data: amphPegB, color: DARK, width: 1.2, marker: "diamond", r: 6.5 },
          ]}>
          <line x1={1342} y1={252} x2={1376} y2={212} stroke="#9a9a9a" strokeWidth={1.2} />
          <text x={1105} y={258} fontSize={19} fontFamily={FONT} dominantBaseline="central">Amphiboles from Ichinomegata</text>
          <Legend box={[829, 68, 499, 30]} rowY={[83]} sx={[832, 856]} tx={856}
            rows={legendB.map((p) => ({ parts: p, color: DARK, width: 1.1, marker: "diamond" as Mk, r: 5 }))} />
        </Panel>

        {/* C */}
        <Panel geo={geoC} elems={ELEM_MORB} letter="C" letterPos={[99, 456]} yLabel="Rock/N-MORB" yLabelPos={[25, 636]}
          groups={[
            { data: plagLowLitC, color: LIGHT, width: 1.3 },
            { data: plagLowStudyC, color: DARK, width: 1.2, marker: "diamond", r: 7.5 },
          ]}>
          <Legend box={[282, 462, 414, 65]} rowY={[480, 508]} sx={[298, 323]} tx={331}
            rows={[
              { parts: legendC[0], color: DARK, width: 1.1, marker: "diamond", r: 7 },
              { parts: legendC[1], color: LIGHT, width: 1.3 },
            ]} />
        </Panel>

        {/* D */}
        <Panel geo={geoD} elems={ELEM_MORB} letter="D" letterPos={[794, 468]} yLabel="Rock/N-MORB" yLabelPos={[715, 661]}
          groups={[
            { data: basaltLitD, color: LIGHT, width: 1.3 },
            { data: diabasePocketD, color: DARK, width: 1.2, marker: "tridown", r: 6 },
            { data: basalticDikeD, color: DARK, width: 1.2, marker: "tri", r: 6 },
            { data: pillowBasalt, color: DARK, width: 1.4, marker: "square", r: 4.5 },
          ]}>
          <Legend box={[1011, 474, 284, 98]} rowY={[491, 513, 535, 558]} sx={[1016, 1038]} tx={1043}
            rows={[
              { parts: legendD[0], color: DARK, width: 1.1, marker: "square", r: 3.5 },
              { parts: legendD[1], color: DARK, width: 1.1, marker: "tridown", r: 4.5 },
              { parts: legendD[2], color: DARK, width: 1.1, marker: "tri", r: 4.5 },
              { parts: legendD[3], color: LIGHT, width: 1.3 },
            ]} />
        </Panel>

        {/* E */}
        <Panel geo={geoE} elems={ELEM_MORB} letter="E" letterPos={[99, 930]} yLabel="Rock/N-MORB" yLabelPos={[25, 1118]}
          groups={[
            { data: plagHighLitE, color: LIGHT, width: 1.3 },
            { data: plagHighStudyE, color: DARK, width: 1.2, marker: "diamond", r: 7.5 },
          ]}>
          <Legend box={[298, 937, 405, 58]} rowY={[953, 978]} sx={[305, 330]} tx={342}
            rows={[
              { parts: legendE[0], color: DARK, width: 1.1, marker: "diamond", r: 7 },
              { parts: legendE[1], color: LIGHT, width: 1.3 },
            ]} />
        </Panel>

        {/* F */}
        <Panel geo={geoF} elems={ELEM_MORB} letter="F" letterPos={[792, 923]} yLabel="Rock/N-MORB" yLabelPos={[715, 1124]}
          groups={[
            { data: fabIbmF, color: "#a3a3a3", width: 1.6 },
            { data: pillowBasalt, color: DARK, width: 1.4, marker: "square", r: 4.5 },
          ]}>
          <Legend box={[1022, 961, 283, 64]} rowY={[977, 1008]} sx={[1028, 1052]} tx={1058}
            rows={[
              { parts: legendF[0], color: DARK, width: 1.1, marker: "square", r: 3.5 },
              { parts: legendF[1], color: "#a3a3a3", width: 1.6 },
            ]} />
        </Panel>
      </svg>
    </div>
  );
}
